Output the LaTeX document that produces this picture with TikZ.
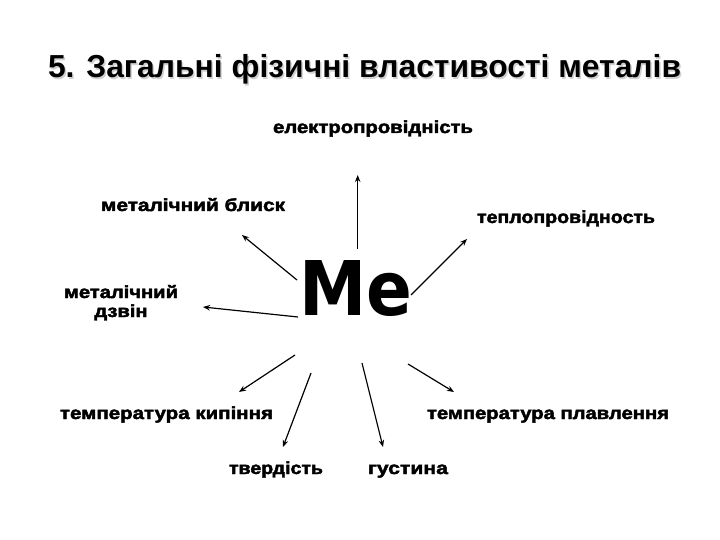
\documentclass[tikz,border=0pt]{standalone}
\usepackage{fontspec}
\setmainfont{Liberation Sans}
\newfontfamily\heavy{Liberation Sans Bold}[FakeBold=2.2]
\newfontfamily\bigfont{DejaVu Sans Bold}
\newfontfamily\ttlfont{Liberation Sans Bold}
\usetikzlibrary{arrows.meta}
\newcommand\lbl[2]{\resizebox{#1}{\height}{\heavy\fontsize{17.5bp}{20bp}\selectfont #2}}
\tikzset{
  lab/.style={anchor=base west, inner sep=0pt, outer sep=0pt},
  arr/.style={line width=1.2bp, -{Stealth[length=7bp,width=5.5bp]}},
}
\begin{document}
\begin{tikzpicture}[x=1bp,y=-1bp]
\useasboundingbox (0,0) rectangle (720,540);
\fill[white] (0,0) rectangle (720,540);
% title with soft shadow
\node[lab, text=black!18] (titleshadow) at (49.5,79.5) {\resizebox{633bp}{!}{\ttlfont\fontsize{30bp}{36bp}\selectfont 5. Загальні фізичні властивості металів}};
\node[lab] (title) at (48,78) {\resizebox{633bp}{!}{\ttlfont\fontsize{30bp}{36bp}\selectfont 5. Загальні фізичні властивості металів}};
% centre
\node[lab] (me) at (299,315) {\resizebox{113bp}{55bp}{\bigfont Me}};
% labels
\node[lab] (el) at (273,133) {\lbl{200bp}{електропровідність}};
\node[lab] (bl) at (101,211) {\lbl{184bp}{металічний блиск}};
\node[lab] (tp) at (477,223) {\lbl{178bp}{теплопровідность}};
\node[lab] (dz) at (64,298) {\resizebox{114bp}{\height}{\heavy\fontsize{17.5bp}{20bp}\selectfont\begin{tabular}[t]{@{}c@{}}металічний\\[-1pt]дзвін\end{tabular}}};
\node[lab] (kp) at (60,419) {\lbl{213bp}{температура кипіння}};
\node[lab] (pl) at (427,419) {\lbl{242bp}{температура плавлення}};
\node[lab] (tv) at (229,474) {\lbl{94bp}{твердість}};
\node[lab] (gs) at (368,474) {\lbl{80bp}{густина}};
% arrow ends
\coordinate (s1) at (357.7,249); \coordinate (t1) at (357.7,175);
\coordinate (s2) at (297,280);   \coordinate (t2) at (242,235);
\coordinate (s3) at (411,295);   \coordinate (t3) at (467,239);
\coordinate (s4) at (298,317);   \coordinate (t4) at (203,307);
\coordinate (s5) at (295,355);   \coordinate (t5) at (239,392);
\coordinate (s6) at (311,373);   \coordinate (t6) at (283,447);
\coordinate (s7) at (362,363);   \coordinate (t7) at (383,447);
\coordinate (s8) at (408,364);   \coordinate (t8) at (454,392);
\foreach \i in {1,...,8} \draw[arr] (s\i) -- (t\i);
\end{tikzpicture}
\end{document}
